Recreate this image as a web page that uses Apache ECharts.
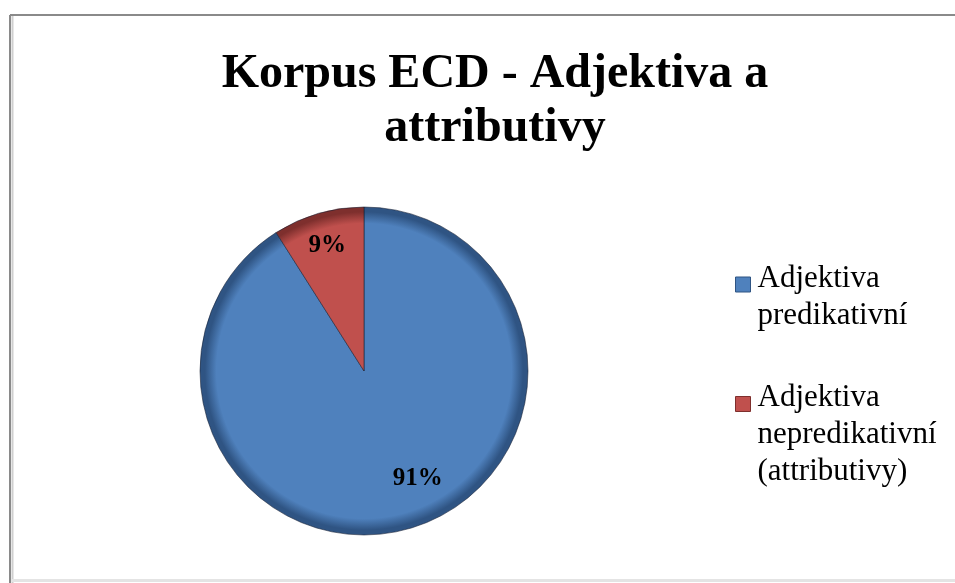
<!DOCTYPE html>
<html>
<head>
<meta charset="utf-8">
<script src="https://cdn.jsdelivr.net/npm/echarts@6/dist/echarts.min.js"></script>
<style>
  html, body { margin: 0; padding: 0; background: #ffffff; }
  #chart { width: 955px; height: 583px; }
</style>
</head>
<body>
<div id="chart"></div>
<script>
// Chart data
const titleText = 'Korpus ECD - Adjektiva a\nattributivy';
const categories = ['Adjektiva\npredikativní', 'Adjektiva\nnepredikativní\n(attributivy)'];
const shares = [91, 9];
const sliceColors = ['#4F81BD', '#C0504D'];
const rimColors = ['#2F5483', '#7E2F2D'];

// Pie geometry
const CX = 364, CY = 371, R = 164;
const SERIF = '"Liberation Serif", "Times New Roman", serif';

// label nudges so the percentages sit where Excel's best-fit puts them
const labelOffsets = [[30, 26], [-13, -44]];

// legend text: each entry is centred on its marker, so a spacer line on top
// keeps the marker level with the first line of the entry
const LINE_H = 37;
const MARKER_DROP = 6;
function spacerHeight(lines) {
  return (lines - 1) * LINE_H - 2 * MARKER_DROP;
}

function rimGradient(i) {
  return {
    type: 'radial', x: CX, y: CY, r: R, global: true,
    colorStops: [
      { offset: 0, color: sliceColors[i] },
      { offset: 0.9, color: sliceColors[i] },
      { offset: 0.97, color: rimColors[i] },
      { offset: 1, color: rimColors[i] }
    ]
  };
}

const pieData = categories.map((name, i) => ({
  name: name,
  value: shares[i],
  itemStyle: { color: rimGradient(i) },
  label: { offset: labelOffsets[i] }
}));

const legendRich = {
  t: { fontFamily: SERIF, fontSize: 31, lineHeight: LINE_H, color: '#000000', padding: [0, 0, 0, 2] }
};
categories.forEach((name, i) => {
  legendRich['pad' + i] = { fontSize: 1, lineHeight: spacerHeight(name.split('\n').length) };
});

const legendData = categories.map((name, i) => ({
  name: name,
  itemStyle: { color: sliceColors[i], borderColor: rimColors[i], borderWidth: 1 }
}));

const chart = echarts.init(document.getElementById('chart'), null, { renderer: 'canvas' });

chart.setOption({
  backgroundColor: '#ffffff',
  animation: false,
  title: {
    text: titleText,
    left: 490,
    top: 43,
    textAlign: 'center',
    textStyle: {
      fontFamily: SERIF,
      fontWeight: 'bold',
      fontSize: 48,
      lineHeight: 54,
      color: '#000000'
    }
  },
  legend: {
    orient: 'vertical',
    left: 735,
    top: 247,
    padding: 0,
    itemWidth: 15,
    itemHeight: 15,
    itemGap: 17,
    icon: 'rect',
    selectedMode: false,
    data: legendData,
    formatter: function (name) {
      const i = categories.indexOf(name);
      const body = name.split('\n').map(s => '{t|' + s + '}').join('\n');
      return '{pad' + i + '|\u00a0}\n' + body;
    },
    textStyle: {
      fontFamily: SERIF,
      fontSize: 31,
      color: '#000000',
      rich: legendRich
    }
  },
  graphic: [
    // chart frame
    { type: 'line', shape: { x1: 10, y1: 15, x2: 955, y2: 15 }, style: { stroke: '#8a8a8a', lineWidth: 2 } },
    { type: 'line', shape: { x1: 10, y1: 15, x2: 10, y2: 583 }, style: { stroke: '#8a8a8a', lineWidth: 2 } },
    { type: 'line', shape: { x1: 12.5, y1: 16, x2: 12.5, y2: 583 }, style: { stroke: '#cfcfcf', lineWidth: 2 } },
    { type: 'line', shape: { x1: 12, y1: 580.5, x2: 955, y2: 580.5 }, style: { stroke: '#e4e4e4', lineWidth: 3 } }
  ],
  series: [{
    type: 'pie',
    center: [CX, CY],
    radius: [0, R],
    startAngle: 90,
    clockwise: true,
    avoidLabelOverlap: false,
    itemStyle: {
      borderColor: 'rgba(20,30,50,0.55)',
      borderWidth: 1
    },
    label: {
      show: true,
      position: 'inside',
      formatter: '{c}%',
      fontFamily: SERIF,
      fontWeight: 'bold',
      fontSize: 25,
      color: '#000000'
    },
    labelLine: { show: false },
    emphasis: { disabled: true },
    data: pieData
  }]
});
</script>
</body>
</html>
